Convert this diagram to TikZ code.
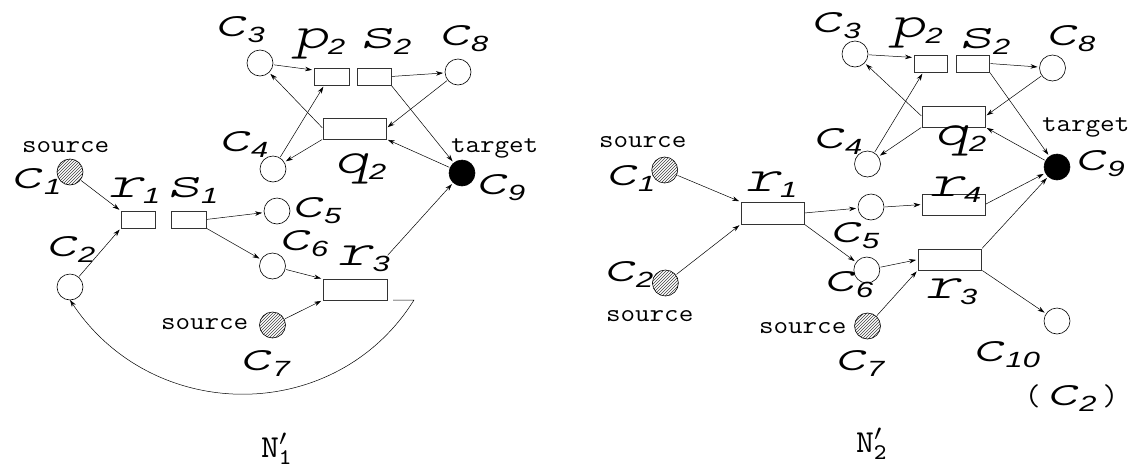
\documentclass[tikz,border=0pt]{standalone}
\usepackage{fontspec}
\usetikzlibrary{arrows.meta,patterns,calc}
\newfontfamily\subf{Liberation Sans}
\newfontfamily\labf{lmmonolt10-oblique.otf}
\newcommand\lbl[2]{\scalebox{1.45}[1]{\fontsize{46}{48}\labf #1}\raisebox{-6pt}{\scalebox{1.4}[1]{\fontsize{22}{24}\subf\itshape #2}}}
\newcommand\srctext[1]{\scalebox{1.13}[1]{\fontsize{25}{27}\ttfamily #1}}
\begin{document}
\begin{tikzpicture}[x=1pt,y=-1pt,
  place/.style={circle,draw,line width=0.6pt,minimum size=26pt,inner sep=0pt,outer sep=0pt},
  srcplace/.style={place,pattern=north east lines,pattern color=black!75},
  tgtplace/.style={place,fill=black},
  trans/.style={rectangle,draw=black!80,line width=0.8pt,inner sep=0pt,outer sep=0pt},
  small/.style={trans,minimum width=33pt,minimum height=17pt},
  big/.style={trans,minimum width=63pt,minimum height=21pt},
  lab/.style={inner sep=0pt,outer sep=0pt,anchor=base west},
  arr/.style={-{Stealth[length=7pt,width=4.5pt]},line width=0.5pt,shorten >=2pt,shorten <=1pt}]
\useasboundingbox (0,0) rectangle (1141,472);
% ---------------- left net N1'
\node[place] (Lc3) at (260,63) {};
\node[place] (Lc8) at (458,72) {};
\node[place] (Lc4) at (273,169) {};
\node[tgtplace] (Lc9) at (462,173) {};
\node[srcplace] (Lc1) at (70,172) {};
\node[place] (Lc5) at (277,211) {};
\node[place] (Lc2) at (70,287) {};
\node[place] (Lc6) at (272.5,266) {};
\node[srcplace] (Lc7) at (272.5,325) {};
\node[small,minimum width=35pt] (Lp2) at (331.5,76.5) {};
\node[small,minimum width=34pt] (Ls2) at (374,76.5) {};
\node[big] (Lq2) at (354.5,128.5) {};
\node[small,minimum width=34pt] (Lr1) at (138,219.5) {};
\node[small,minimum width=35pt] (Ls1) at (188.5,219.5) {};
\node[big,minimum width=64pt] (Lr3) at (355,289.5) {};
\coordinate (Lr3t) at (387,256);
\coordinate (Lbend) at (414,300);
% labels
\node[lab] (tLc3) at (212.5,36) {\lbl{c}{3}};
\node[lab] (tLp2) at (293,48) {\lbl{p}{2}};
\node[lab] (tLs2) at (359,48) {\lbl{s}{2}};
\node[lab] (tLc8) at (436,45) {\lbl{c}{8}};
\node[lab] (tLc4) at (216,151) {\lbl{c}{4}};
\node[lab] (tLq2) at (334,173) {\lbl{q}{2}};
\node[lab] (tLtgt) at (451,152) {\srctext{target}};
\node[lab] (tLc9) at (473,194) {\lbl{c}{9}};
\node[lab] (tLsrc1) at (22,152) {\srctext{source}};
\node[lab] (tLc1) at (9,188) {\lbl{c}{1}};
\node[lab] (tLr1) at (108,197) {\lbl{r}{1}};
\node[lab] (tLs1) at (166,197) {\lbl{s}{1}};
\node[lab] (tLc5) at (289,217) {\lbl{c}{5}};
\node[lab] (tLc2) at (43,256) {\lbl{c}{2}};
\node[lab] (tLc6) at (276,250) {\lbl{c}{6}};
\node[lab] (tLr3) at (337.5,265) {\lbl{r}{3}};
\node[lab] (tLsrc7) at (161,329) {\srctext{source}};
\node[lab] (tLc7) at (237.5,370) {\lbl{c}{7}};
\node[lab] (tN1) at (261,457) {\scalebox{3.4}[3.2]{$\mathtt{N}'_{\mathtt{1}}$}};
% arrows
\draw[arr] (Lc3) -- (Lp2.160);
\draw[arr] (Ls2.east) -- (Lc8);
\draw[arr] (Lc8) -- (Lq2.east);
\draw[arr] (Lq2.west) -- (Lc3);
\draw[arr] (Lq2.south west) -- (Lc4);
\draw[arr] (Lc4) -- (Lp2.230);
\draw[arr] (Ls2.south east) -- (Lc9);
\draw[arr] (Lc9) -- (Lq2.south east);
\draw[arr] (Lr3t) -- (Lc9);
\draw[arr] (Lc1) -- (Lr1.north west);
\draw[arr] (Ls1.east) -- (Lc5);
\draw[arr] (Ls1.south east) -- (Lc6);
\draw[arr] (Lc2) -- (Lr1.south west);
\draw[arr] (Lc6) -- (Lr3.north west);
\draw[arr] (Lc7) -- (Lr3.south west);
\draw[arr,shorten >=0pt] ([xshift=5pt]Lr3.south east) -- (Lbend) .. controls (336,425) and (153,425) .. (Lc2.south);
% ---------------- right net N2'
\node[place] (Rc3) at (855,54) {};
\node[place] (Rc8) at (1052.5,68) {};
\node[place] (Rc4) at (867.5,164) {};
\node[tgtplace] (Rc9) at (1057,167) {};
\node[srcplace] (Rc1) at (664.7,170) {};
\node[place] (Rc5) at (871,207) {};
\node[srcplace] (Rc2) at (665.4,283) {};
\node[place] (Rc6) at (866.8,270) {};
\node[srcplace] (Rc7) at (867.5,326) {};
\node[place] (Rc10) at (1057,321) {};
\node[small] (Rp2) at (930.5,63.5) {};
\node[small,minimum width=33.5pt] (Rs2) at (972.75,63.5) {};
\node[big] (Rq2) at (953.5,116.5) {};
\node[big,minimum height=22pt] (Rr1) at (772.5,213) {};
\node[big,minimum width=62.5pt] (Rr4) at (953.75,204.5) {};
\node[big,minimum width=63.5pt] (Rr3) at (949.75,259.5) {};
% labels
\node[lab] (tRc3) at (808.5,32) {\lbl{c}{3}};
\node[lab] (tRp2) at (890.5,37) {\lbl{p}{2}};
\node[lab] (tRs2) at (958,48) {\lbl{s}{2}};
\node[lab] (tRc8) at (1043,45) {\lbl{c}{8}};
\node[lab] (tRq2) at (934,145) {\lbl{q}{2}};
\node[lab] (tRc4) at (810,148) {\lbl{c}{4}};
\node[lab] (tRtgt) at (1042,131) {\srctext{target}};
\node[lab] (tRc9) at (1072.5,170) {\lbl{c}{9}};
\node[lab] (tRsrc1) at (599,147) {\srctext{source}};
\node[lab] (tRc1) at (603,185) {\lbl{c}{1}};
\node[lab] (tRr1) at (745,191) {\lbl{r}{1}};
\node[lab] (tRr4) at (929,196) {\lbl{r}{4}};
\node[lab] (tRc5) at (827,242) {\lbl{c}{5}};
\node[lab] (tRc2) at (601,281) {\lbl{c}{2}};
\node[lab] (tRsrc2) at (606,321) {\srctext{source}};
\node[lab] (tRc6) at (821,291) {\lbl{c}{6}};
\node[lab] (tRr3) at (925,298) {\lbl{r}{3}};
\node[lab] (tRsrc7) at (759,333) {\srctext{source}};
\node[lab] (tRc7) at (832,370) {\lbl{c}{7}};
\node[lab] (tRc10) at (970.6,361) {\lbl{c}{10}};
\node[lab] (tRc2b) at (1025,405) {{\fontsize{30}{32}\ttfamily (}\hspace{4pt}\lbl{c}{2}\hspace{6pt}{\fontsize{30}{32}\ttfamily )}};
\node[lab] (tN2) at (856,452) {\scalebox{3.4}[3.2]{$\mathtt{N}'_{\mathtt{2}}$}};
% arrows
\draw[arr] (Rc3) -- (Rp2.160);
\draw[arr] (Rs2.east) -- (Rc8);
\draw[arr] (Rc8) -- (Rq2.east);
\draw[arr] (Rq2.west) -- (Rc3);
\draw[arr] (Rq2.south west) -- (Rc4);
\draw[arr] (Rc4) -- (Rp2.230);
\draw[arr] (Rs2.south east) -- (Rc9);
\draw[arr] (Rc9) -- (Rq2.south east);
\draw[arr] (Rr4.east) -- (Rc9);
\draw[arr] (Rr3.north east) -- (Rc9);
\draw[arr] (Rc1) -- (Rr1.north west);
\draw[arr] (Rc2) -- (Rr1.south west);
\draw[arr] (Rr1.east) -- (Rc5);
\draw[arr] (Rc5.east) -- (Rr4.west);
\draw[arr] (Rr1.south east) -- (Rc6);
\draw[arr] (Rc6) -- (Rr3.west);
\draw[arr] (Rc7) -- (Rr3.south west);
\draw[arr] (Rr3.south east) -- (Rc10);
\end{tikzpicture}
\end{document}
